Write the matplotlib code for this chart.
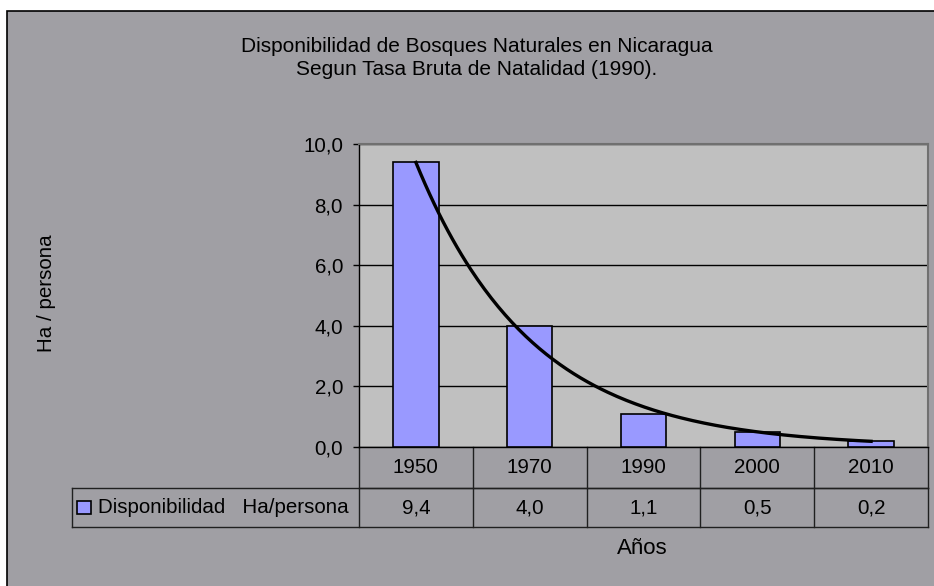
import numpy as np
from matplotlib import pyplot as plt
from matplotlib.patches import Rectangle
from matplotlib.transforms import blended_transform_factory

years = ['1950', '1970', '1990', '2000', '2010']
disponibilidad = [9.4, 4.0, 1.1, 0.5, 0.2]
serie = 'Disponibilidad   Ha/persona'
titulo = 'Disponibilidad de Bosques Naturales en Nicaragua\nSegun Tasa Bruta de Natalidad (1990).'

plt.rcParams['font.family'] = ['Liberation Sans', 'DejaVu Sans']

bg = '#A09FA4'
plot_bg = '#C0C0C0'
bar_c = '#9999FF'
fs = 14.8

fig = plt.figure(figsize=(9.34, 5.86), dpi=100, facecolor='white')
# chart area with its border (cropped at right and bottom)
fig.patches.append(Rectangle((7 / 934, -0.1), 1.2, 1.1 - 11 / 586, transform=fig.transFigure,
                             facecolor=bg, edgecolor='black', lw=1.2, zorder=-5))

ax = fig.add_axes([359 / 934, 139 / 586, 569 / 934, 303 / 586])
ax.set_facecolor(plot_bg)
x = np.arange(len(years))
ax.bar(x, disponibilidad, width=0.4, color=bar_c, edgecolor='black', lw=1.2, zorder=3)

# exponential trend line, as Excel fits it
k = np.arange(1, len(years) + 1)
b, a = np.polyfit(k, np.log(disponibilidad), 1)
xs = np.linspace(1, len(years), 200)
ax.plot(xs - 1, np.exp(a) * np.exp(b * xs), color='black', lw=2.4, zorder=4)

ax.set_xlim(-0.5, len(years) - 0.5)
ax.set_ylim(0, 10)
ax.set_yticks(np.arange(0, 11, 2))
ax.set_yticklabels([f'{v:.1f}'.replace('.', ',') for v in np.arange(0, 11, 2)], fontsize=fs)
ax.set_xticks([])
ax.tick_params(axis='y', direction='out', length=4.5, width=1, pad=7)
ax.grid(axis='y', color='black', lw=1, zorder=1)
for sp in ['top', 'right']:
    ax.spines[sp].set_color('#707070')
    ax.spines[sp].set_linewidth(1.5)
ax.spines['left'].set_linewidth(1)
ax.spines['bottom'].set_linewidth(1)

# data table under the axis
tr = blended_transform_factory(ax.transData, ax.transAxes)
r1 = -41 / 303
r2 = -80 / 303
lab_left = (72 - 359) / 569
lc = '#202020'
ax.plot([-0.5, len(years) - 0.5], [r1, r1], transform=tr, color=lc, lw=1, clip_on=False)
ax.plot([lab_left, 1], [r1, r1], transform=ax.transAxes, color=lc, lw=1, clip_on=False)
ax.plot([lab_left, 1], [r2, r2], transform=ax.transAxes, color=lc, lw=1, clip_on=False)
ax.plot([lab_left, lab_left], [r1, r2], transform=ax.transAxes, color=lc, lw=1, clip_on=False)
for i in range(len(years) + 1):
    ax.plot([i - 0.5, i - 0.5], [0, r2], transform=tr, color=lc, lw=1, clip_on=False)
for i, (yr, v) in enumerate(zip(years, disponibilidad)):
    ax.text(i, r1 / 2, yr, transform=tr, ha='center', va='center', fontsize=fs)
    ax.text(i, (r1 + r2) / 2, f'{v:.1f}'.replace('.', ','), transform=tr,
            ha='center', va='center', fontsize=fs)
ax.add_patch(Rectangle(((77 - 359) / 569, (r1 + r2) / 2 - 6.5 / 303), 14 / 569, 13 / 303,
                       transform=ax.transAxes, facecolor=bar_c, edgecolor='black', lw=1.2,
                       clip_on=False))
ax.text((98 - 359) / 569, (r1 + r2) / 2, serie, transform=ax.transAxes,
        ha='left', va='center', fontsize=fs)

fig.text(477 / 934, 1 - 58 / 586, titulo, ha='center', va='center', fontsize=15,
         linespacing=1.25)
fig.text(46 / 934, 1 - 293 / 586, 'Ha / persona', rotation=90, ha='center', va='center',
         fontsize=fs)
fig.text(642 / 934, 1 - 548 / 586, 'Años', ha='center', va='center', fontsize=16)

fig.savefig('out.png', dpi=100, facecolor=fig.get_facecolor())
